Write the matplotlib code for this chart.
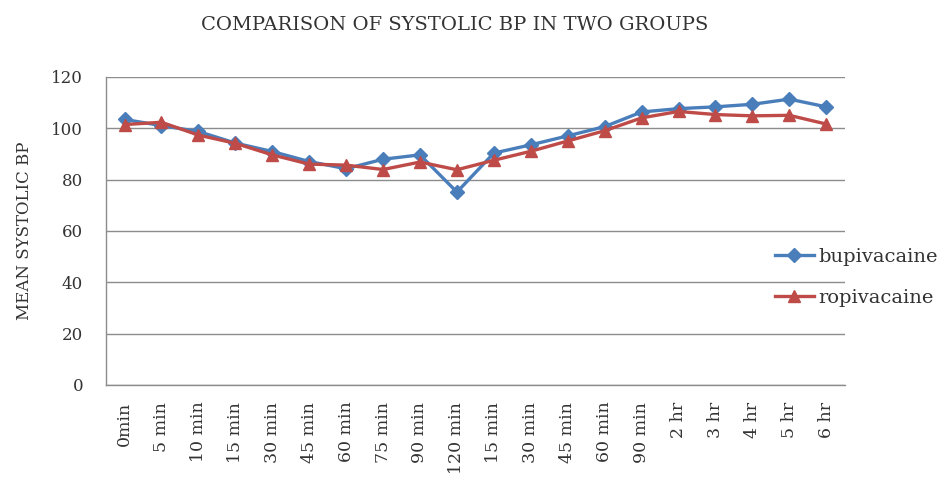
import matplotlib
matplotlib.use("Agg")
import matplotlib.pyplot as plt

categories = ["0min", "5 min", "10 min", "15 min", "30 min", "45 min", "60 min",
              "75 min", "90 min", "120 min", "15 min", "30 min", "45 min", "60 min",
              "90 min", "2 hr", "3 hr", "4 hr", "5 hr", "6 hr"]
bupivacaine = [103.4, 101.0, 98.7, 94.2, 90.9, 87.0, 84.2, 87.9, 89.6, 75.1,
               90.3, 93.5, 97.0, 100.6, 106.3, 107.6, 108.3, 109.3, 111.3, 108.3]
ropivacaine = [101.4, 102.3, 97.3, 94.1, 89.6, 86.0, 85.6, 83.9, 86.8, 83.8,
               87.5, 91.0, 95.0, 99.0, 104.0, 106.5, 105.3, 104.8, 105.0, 101.6]
yticks = [0, 20, 40, 60, 80, 100, 120]

plt.rcParams['font.family'] = ['DejaVu Serif']

fig = plt.figure(figsize=(9.47, 4.80), dpi=100)
ax = fig.add_axes([0.112, 0.198, 0.780, 0.642])

x = list(range(len(categories)))
ax.plot(x, bupivacaine, color="#4A7EBB", lw=2.4, marker="D", ms=7.5,
        label="bupivacaine", zorder=3)
ax.plot(x, ropivacaine, color="#BE4B48", lw=2.4, marker="^", ms=9,
        label="ropivacaine", zorder=4)

ax.set_xlim(-0.5, len(categories) - 0.5)
ax.set_ylim(0, 120)
ax.set_yticks(yticks)
ax.yaxis.grid(True, color="#8C8C8C", lw=1.0)
ax.set_axisbelow(True)
ax.set_xticks(x)
ax.set_xticklabels(categories, rotation=90, fontsize=12.5, color="#333333")
ax.tick_params(axis='y', labelsize=12, length=0, pad=16.5, labelcolor="#333333")
ax.tick_params(axis='x', length=0, pad=12)
for s in ["top", "right"]:
    ax.spines[s].set_visible(False)
for s in ["left", "bottom"]:
    ax.spines[s].set_color("#8C8C8C")
    ax.spines[s].set_linewidth(1.0)

ax.set_ylabel("MEAN SYSTOLIC BP", fontsize=12, labelpad=13, color="#333333")
fig.text(0.48, 0.948, "COMPARISON OF SYSTOLIC BP IN TWO GROUPS", ha="center",
         va="center", fontsize=14, color="#333333")

leg = ax.legend(loc="upper left", bbox_to_anchor=(0.818, 0.483),
                bbox_transform=fig.transFigure, frameon=False,
                fontsize=14, handlelength=2.0, labelspacing=1.16,
                handletextpad=0.25, borderaxespad=0.0, borderpad=0.0)
for t in leg.get_texts():
    t.set_color("#333333")

fig.savefig("out.png", dpi=100)
